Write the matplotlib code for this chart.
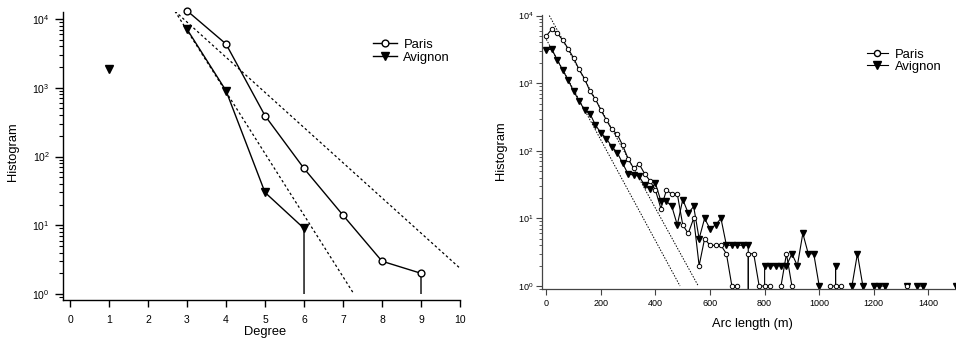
import numpy as np
import matplotlib
matplotlib.use("Agg")
import matplotlib.pyplot as plt
from matplotlib.patches import Rectangle
from matplotlib.lines import Line2D

plt.rcParams['font.family'] = ['Liberation Sans', 'DejaVu Sans']

# ---------------- data: degree histogram ----------------
degree = [1, 2, 3, 4, 5, 6, 7, 8, 9, 10]
paris_deg = [np.nan, np.nan, 13200, 4330, 392, 67, 14, 3, 2, 0]
avignon_deg = [1890, np.nan, 7100, 906, 30, 9, 0, np.nan, np.nan, np.nan]
fit_deg_x = [[2.69, 10.0], [2.69, 7.28]]
fit_deg_y = [[13000, 2.37], [13000, 1.0]]
deg_ticks = [0, 1, 2, 3, 4, 5, 6, 7, 8, 9, 10]

# ---------------- data: arc length histogram ----------------
arc_len = [0, 20, 40, 60, 80, 100, 120, 140, 160, 180,
           200, 220, 240, 260, 280, 300, 320, 340, 360, 380,
           400, 420, 440, 460, 480, 500, 520, 540, 560, 580,
           600, 620, 640, 660, 680, 700, 720, 740, 760, 780,
           800, 820, 840, 860, 880, 900, 920, 940, 960, 980,
           1000, 1020, 1040, 1060, 1080, 1100, 1120, 1140, 1160, 1180,
           1200, 1220, 1240, 1260, 1280, 1300, 1320, 1340, 1360, 1380,
           1400, 1420, 1440, 1460, 1480, 1500]
paris_arc = [5000, 6300, 5500, 4350, 3250, 2350, 1600, 1170, 760, 580,
             400, 285, 208, 175, 120, 76, 55, 64, 46, 36,
             26, 14, 26, 23, 23, 8, 6, 10, 2, 5,
             4, 4, 4, 3, 1, 1, 0, 3, 3, 1,
             1, 1, 0, 1, 3, 1, 0, 0, 0, 0,
             0, 0, 1, 1, 1, 0, 0, 0, 0, 0,
             0, 0, 0, 0, 0, 0, 1, 0, 0, 0,
             0, 0, 0, 0, 0, 0]
avignon_arc = [3100, 3200, 2200, 1570, 1110, 760, 550, 400, 355, 240,
               185, 152, 115, 94, 65, 45, 44, 42, 31, 27,
               33, 18, 18, 15, 8, 19, 12, 15, 5, 10,
               7, 8, 10, 4, 4, 4, 4, 4, 0, 0,
               2, 2, 2, 2, 2, 3, 2, 6, 3, 3,
               1, 0, 0, 2, 0, 0, 1, 3, 1, 0,
               1, 1, 1, 0, 0, 0, 1, 0, 1, 1,
               0, 0, 0, 0, 0, 1]
fit_arc_x = [[11, 557], [0, 490]]
fit_arc_y = [[10000, 1.0], [4450, 1.0]]
arc_ticks = [0, 200, 400, 600, 800, 1000, 1200, 1400]

labels = ["Paris", "Avignon"]

W, H = 956, 344
fig = plt.figure(figsize=(W / 100, H / 100), dpi=100)

# ================= left panel =================
L0, L1, B0, T0 = 63, 460, 300, 11.7
ax1 = fig.add_axes([L0 / W, 1 - B0 / H, (L1 - L0) / W, (B0 - T0) / H])
ax1.set_yscale('log', nonpositive='clip')
ax1.set_xlim(-0.18, 10)
ax1.set_ylim(0.818, 12770)

clip1 = Rectangle((-0.18, 1.0), 10.18, 1e7, transform=ax1.transData)
for fx, fy in zip(fit_deg_x, fit_deg_y):
    ax1.plot(fx, fy, color='k', lw=0.9, ls=(0, (2.0, 2.0)))
l_av, = ax1.plot(degree, avignon_deg, '-v', color='k', lw=1.0, ms=6.2, mfc='k', mec='k')
l_pa, = ax1.plot(degree, paris_deg, '-o', color='k', lw=1.0, ms=4.9, mfc='white', mec='k', mew=1.0)
for ln in (l_av, l_pa):
    ln.set_clip_path(clip1)

for s in ('top', 'right'):
    ax1.spines[s].set_visible(False)
for s in ('left', 'bottom'):
    ax1.spines[s].set_linewidth(1.0)
ax1.set_xticks(deg_ticks)
ax1.tick_params(axis='x', direction='out', length=5, width=1.0, pad=5.5, labelsize=7.5)
ax1.tick_params(axis='y', which='major', direction='out', length=6, width=1.0, pad=3.5, labelsize=7.5)
ax1.tick_params(axis='y', which='minor', direction='out', length=3, width=0.8)
ax1.set_xlabel("Degree", fontsize=9.3)
ax1.xaxis.set_label_coords((265 - L0) / (L1 - L0), -(326 - B0) / (B0 - T0))
ax1.set_ylabel("Histogram", fontsize=9.3)
ax1.yaxis.set_label_coords((18.5 - L0) / (L1 - L0), 1 - (151.7 - T0) / (B0 - T0))

h1 = [Line2D([], [], color='k', lw=1.0, marker='o', ms=4.9, mfc='white', mec='k'),
      Line2D([], [], color='k', lw=1.0, marker='v', ms=6.2, mfc='k', mec='k')]
ax1.legend(h1, labels, loc='upper left', bbox_to_anchor=(372.7 / W, 1 - 38.5 / H),
           bbox_transform=fig.transFigure, frameon=False, borderpad=0, borderaxespad=0,
           handlelength=1.85, handletextpad=0.5, labelspacing=0.08, fontsize=9.4)

# ================= right panel =================
R0, R1, RB, RT = 542.3, 956, 289.3, 15
ax2 = fig.add_axes([R0 / W, 1 - RB / H, (R1 - R0) / W, (RB - RT) / H])
ax2.set_yscale('log', nonpositive='clip')
ax2.set_xlim(-14.7, 1501.3)
ax2.set_ylim(0.894, 10200)

for fx, fy in zip(fit_arc_x, fit_arc_y):
    ax2.plot(fx, fy, color='k', lw=0.7, ls=(0, (1.5, 1.5)))
ax2.plot(arc_len, avignon_arc, '-v', color='k', lw=0.8, ms=4.1, mfc='k', mec='k')
ax2.plot(arc_len, paris_arc, '-o', color='k', lw=0.8, ms=3.2, mfc='white', mec='k', mew=0.7)

for s in ('top', 'right'):
    ax2.spines[s].set_visible(False)
for s in ('left', 'bottom'):
    ax2.spines[s].set_linewidth(0.9)
    ax2.spines[s].set_color('#444444')
ax2.set_xticks(arc_ticks)
ax2.tick_params(axis='x', direction='out', length=4, width=0.8, pad=3, labelsize=6.5, color='#444444')
ax2.tick_params(axis='y', which='major', direction='out', length=4, width=0.8, pad=2.5, labelsize=6.5, color='#444444')
ax2.tick_params(axis='y', which='minor', direction='out', length=2.2, width=0.6, color='#444444')
ax2.set_xlabel("Arc length (m)", fontsize=9.3)
ax2.xaxis.set_label_coords((752 - R0) / (R1 - R0), -(318 - RB) / (RB - RT))
ax2.set_ylabel("Histogram", fontsize=9.3)
ax2.yaxis.set_label_coords((506.5 - R0) / (R1 - R0), 1 - (150.8 - RT) / (RB - RT))

h2 = [Line2D([], [], color='k', lw=0.8, marker='o', ms=4.4, mfc='white', mec='k'),
      Line2D([], [], color='k', lw=0.8, marker='v', ms=5.6, mfc='k', mec='k')]
ax2.legend(h2, labels, loc='upper left', bbox_to_anchor=(866.7 / W, 1 - 48.5 / H),
           bbox_transform=fig.transFigure, frameon=False, borderpad=0, borderaxespad=0,
           handlelength=1.6, handletextpad=0.54, labelspacing=0.02, fontsize=9.4)

fig.savefig("out.png", dpi=100)
